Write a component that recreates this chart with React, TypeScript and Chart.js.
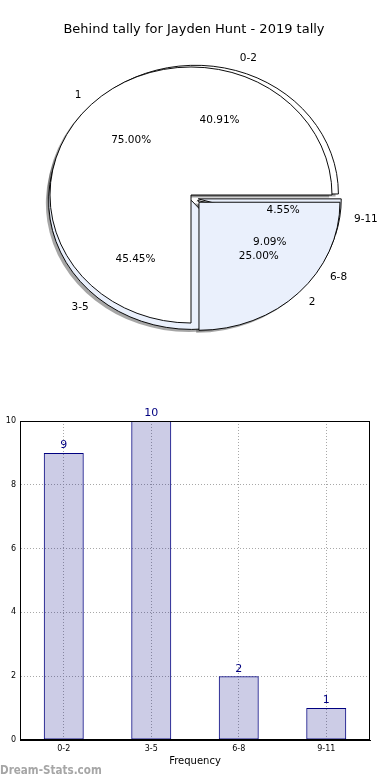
import React, { useEffect, useRef } from "react";
import { Chart, registerables } from "chart.js";

Chart.register(...registerables);

const TITLE = "Behind tally for Jayden Hunt - 2019 tally";

// outer pie (drawn underneath)
const groupLabels = ["0-2", "3-5", "6-8", "9-11"];
const groupCounts = [9, 10, 2, 1];
const groupColors = ["#ffffff", "#eaf0fc", "#ffffff", "#eaf0fc"];
const groupExplode = [0.035, 0.025, 0.03, 0.03];

// overlay pie (drawn on top)
const splitLabels = ["1", "2"];
const splitCounts = [3, 1];
const splitColors = ["#ffffff", "#eaf0fc"];
const splitExplode = [0, 0.08];

// bar chart
const barCategories = ["0-2", "3-5", "6-8", "9-11"];
const barValues = [9, 10, 2, 1];
const yMin = 0;
const yMax = 10;
const yStep = 2;
const xAxisTitle = "Frequency";
const watermark = "Dream-Stats.com";

const FONT = "'DejaVu Sans', sans-serif";
const LABEL_SIZE = 10.5;

function rev(a: any[]) {
  return a.slice().reverse();
}

type Spec = { sy: number; explode: number[]; chart: any };

const specA: Spec = { sy: 0.9, explode: rev(groupExplode), chart: null };
const specB: Spec = { sy: 0.908, explode: rev(splitExplode), chart: null };

function arcTransform(ctx: CanvasRenderingContext2D, arc: any, spec: Spec, i: number) {
  ctx.translate(arc.x, arc.y);
  ctx.scale(1, spec.sy);
  ctx.translate(-arc.x, -arc.y);
  const mid = (arc.startAngle + arc.endAngle) / 2;
  const t = (spec.explode[i] || 0) * arc.outerRadius;
  ctx.translate(Math.cos(mid) * t, Math.sin(mid) * t);
}

function pieRender(spec: Spec, shadowSpecs: Spec[]) {
  return {
    id: "pieRender",
    beforeInit(chart: any) {
      spec.chart = chart;
    },
    beforeDatasetsDraw(chart: any) {
      const ctx = chart.ctx;
      shadowSpecs.forEach((s) => {
        const c = s === spec ? chart : s.chart;
        if (!c) return;
        const meta = c.getDatasetMeta(0);
        for (let i = meta.data.length - 1; i >= 0; i--) {
          const arc = meta.data[i];
          ctx.save();
          arcTransform(ctx, arc, s, i);
          ctx.translate(-2.8, 2.8);
          const orig = arc.options;
          arc.options = Object.assign({}, orig, {
            backgroundColor: "rgba(77,77,77,0.5)",
            borderWidth: 0,
          });
          arc.draw(ctx);
          arc.options = orig;
          ctx.restore();
        }
      });
      const meta = chart.getDatasetMeta(0);
      for (let i = meta.data.length - 1; i >= 0; i--) {
        ctx.save();
        arcTransform(ctx, meta.data[i], spec, i);
        meta.data[i].draw(ctx);
        ctx.restore();
      }
      return false;
    },
  };
}

function drawPieLabels(ctx: CanvasRenderingContext2D, spec: Spec) {
  const chart = spec.chart;
  if (!chart) return;
  const meta = chart.getDatasetMeta(0);
  const values: number[] = chart.data.datasets[0].data;
  const labels: string[] = chart.data.labels;
  const total = values.reduce((s, v) => s + v, 0);
  ctx.save();
  ctx.fillStyle = "#000";
  ctx.font = `${LABEL_SIZE}px ${FONT}`;
  ctx.textBaseline = "middle";
  meta.data.forEach((arc: any, i: number) => {
    const mid = (arc.startAngle + arc.endAngle) / 2;
    const t = (spec.explode[i] || 0) * arc.outerRadius;
    const c = Math.cos(mid);
    const s = Math.sin(mid);
    const at = (d: number) => [
      arc.x + c * (d * arc.outerRadius + t),
      arc.y + s * (d * arc.outerRadius + t) * spec.sy,
    ];
    const [px, py] = at(0.6);
    ctx.textAlign = "center";
    ctx.fillText(((values[i] / total) * 100).toFixed(2) + "%", px, py);
    const [lx, ly] = at(1.1);
    ctx.textAlign = c >= 0 ? "left" : "right";
    ctx.fillText(labels[i], lx, ly);
  });
  ctx.restore();
}

export default function App() {
  const aRef = useRef<HTMLCanvasElement>(null);
  const bRef = useRef<HTMLCanvasElement>(null);
  const cRef = useRef<HTMLCanvasElement>(null);

  useEffect(() => {
    const chartB = new Chart(bRef.current as HTMLCanvasElement, {
      type: "pie",
      data: {
        labels: rev(splitLabels),
        datasets: [
          {
            data: rev(splitCounts),
            backgroundColor: rev(splitColors),
            borderColor: "#000",
            borderWidth: 1,
            clip: false,
          } as any,
        ],
      },
      options: {
        responsive: false,
        animation: false,
        events: [],
        rotation: 90,
        radius: 141,
        layout: { padding: { left: 0, right: 8, top: 20, bottom: 0 } },
        plugins: {
          legend: { display: false },
          tooltip: { enabled: false },
          title: { display: false },
        },
      } as any,
      plugins: [
        pieRender(specB, []),
        {
          id: "pieLabels",
          afterDraw(chart: any) {
            drawPieLabels(chart.ctx, specA);
            drawPieLabels(chart.ctx, specB);
          },
        },
      ],
    });

    const chartA = new Chart(aRef.current as HTMLCanvasElement, {
      type: "pie",
      data: {
        labels: rev(groupLabels),
        datasets: [
          {
            data: rev(groupCounts),
            backgroundColor: rev(groupColors),
            borderColor: "#000",
            borderWidth: 1,
            clip: false,
          } as any,
        ],
      },
      options: {
        responsive: false,
        animation: false,
        events: [],
        rotation: 90,
        radius: 143,
        layout: { padding: { left: 0, right: 2, top: 0, bottom: 11 } },
        plugins: {
          legend: { display: false },
          tooltip: { enabled: false },
          title: {
            display: true,
            text: TITLE,
            color: "#000",
            font: { family: FONT, size: 13, weight: "normal" },
            padding: { top: 22, bottom: 0 },
          },
        },
      } as any,
      plugins: [pieRender(specA, [specB, specA])],
    });

    chartB.draw();

    const chartC = new Chart(cRef.current as HTMLCanvasElement, {
      type: "bar",
      data: {
        labels: barCategories,
        datasets: [
          {
            data: barValues,
            backgroundColor: "rgba(0,0,128,0.2)",
            borderColor: "#000080",
            borderWidth: 1,
            borderSkipped: false,
            barPercentage: 0.457,
            categoryPercentage: 1,
          } as any,
        ],
      },
      options: {
        responsive: false,
        animation: false,
        events: [],
        layout: { padding: { left: 0, right: 20, top: 31, bottom: 0 } },
        plugins: { legend: { display: false }, tooltip: { enabled: false } },
        scales: {
          x: {
            grid: { offset: false, color: "#a8a8a8", lineWidth: 1, drawTicks: false },
            border: { display: true, color: "#000", width: 1, dash: [1, 2] },
            ticks: { color: "#000", font: { family: FONT, size: 8 }, padding: 4 },
            title: {
              display: true,
              text: xAxisTitle,
              color: "#000",
              font: { family: FONT, size: 10 },
              padding: { top: 0, bottom: 13 },
            },
            afterFit: (s: any) => {
              s.height = 40;
            },
          },
          y: {
            min: yMin,
            max: yMax,
            ticks: { stepSize: yStep, color: "#000", font: { family: FONT, size: 8 }, padding: 4 },
            grid: { color: "#a8a8a8", lineWidth: 1, drawTicks: false },
            border: { display: true, color: "#000", width: 1, dash: [1, 2] },
            afterFit: (s: any) => {
              s.width = 20;
            },
          },
        },
      } as any,
      plugins: [
        {
          id: "valueLabels",
          afterDatasetsDraw(chart: any) {
            const ctx = chart.ctx;
            const meta = chart.getDatasetMeta(0);
            ctx.save();
            ctx.fillStyle = "#000080";
            ctx.font = `11px ${FONT}`;
            ctx.textAlign = "center";
            ctx.textBaseline = "bottom";
            meta.data.forEach((bar: any, i: number) => {
              ctx.fillText(String(chart.data.datasets[0].data[i]), bar.x, bar.y - 2);
            });
            ctx.restore();
          },
        },
        {
          id: "frame",
          afterDraw(chart: any) {
            const { left, top, right, bottom } = chart.chartArea;
            const ctx = chart.ctx;
            ctx.save();
            ctx.strokeStyle = "#000";
            ctx.lineWidth = 1;
            ctx.strokeRect(
              Math.round(left) + 0.5,
              Math.round(top) + 0.5,
              Math.round(right - left) - 1,
              Math.round(bottom - top) - 1
            );
            ctx.restore();
          },
        },
      ],
    });

    return () => {
      chartA.destroy();
      chartB.destroy();
      chartC.destroy();
      specA.chart = null;
      specB.chart = null;
    };
  }, []);

  return (
    <div
      style={{
        position: "absolute",
        left: 0,
        top: 0,
        width: 390,
        height: 780,
        background: "#fff",
        overflow: "hidden",
      }}
    >
      <canvas ref={aRef} width={390} height={370} style={{ position: "absolute", left: 0, top: 0, width: 390, height: 370 }} />
      <canvas ref={bRef} width={390} height={370} style={{ position: "absolute", left: 0, top: 0, width: 390, height: 370 }} />
      <canvas ref={cRef} width={390} height={390} style={{ position: "absolute", left: 0, top: 390, width: 390, height: 390 }} />
      <div
        style={{
          position: "absolute",
          left: 0,
          top: 763,
          font: `bold 13px ${FONT}`,
          lineHeight: "14px",
          color: "#a6a6a6",
          whiteSpace: "nowrap",
          transform: "scaleX(0.8)",
          transformOrigin: "0 0",
        }}
      >
        {watermark}
      </div>
    </div>
  );
}
